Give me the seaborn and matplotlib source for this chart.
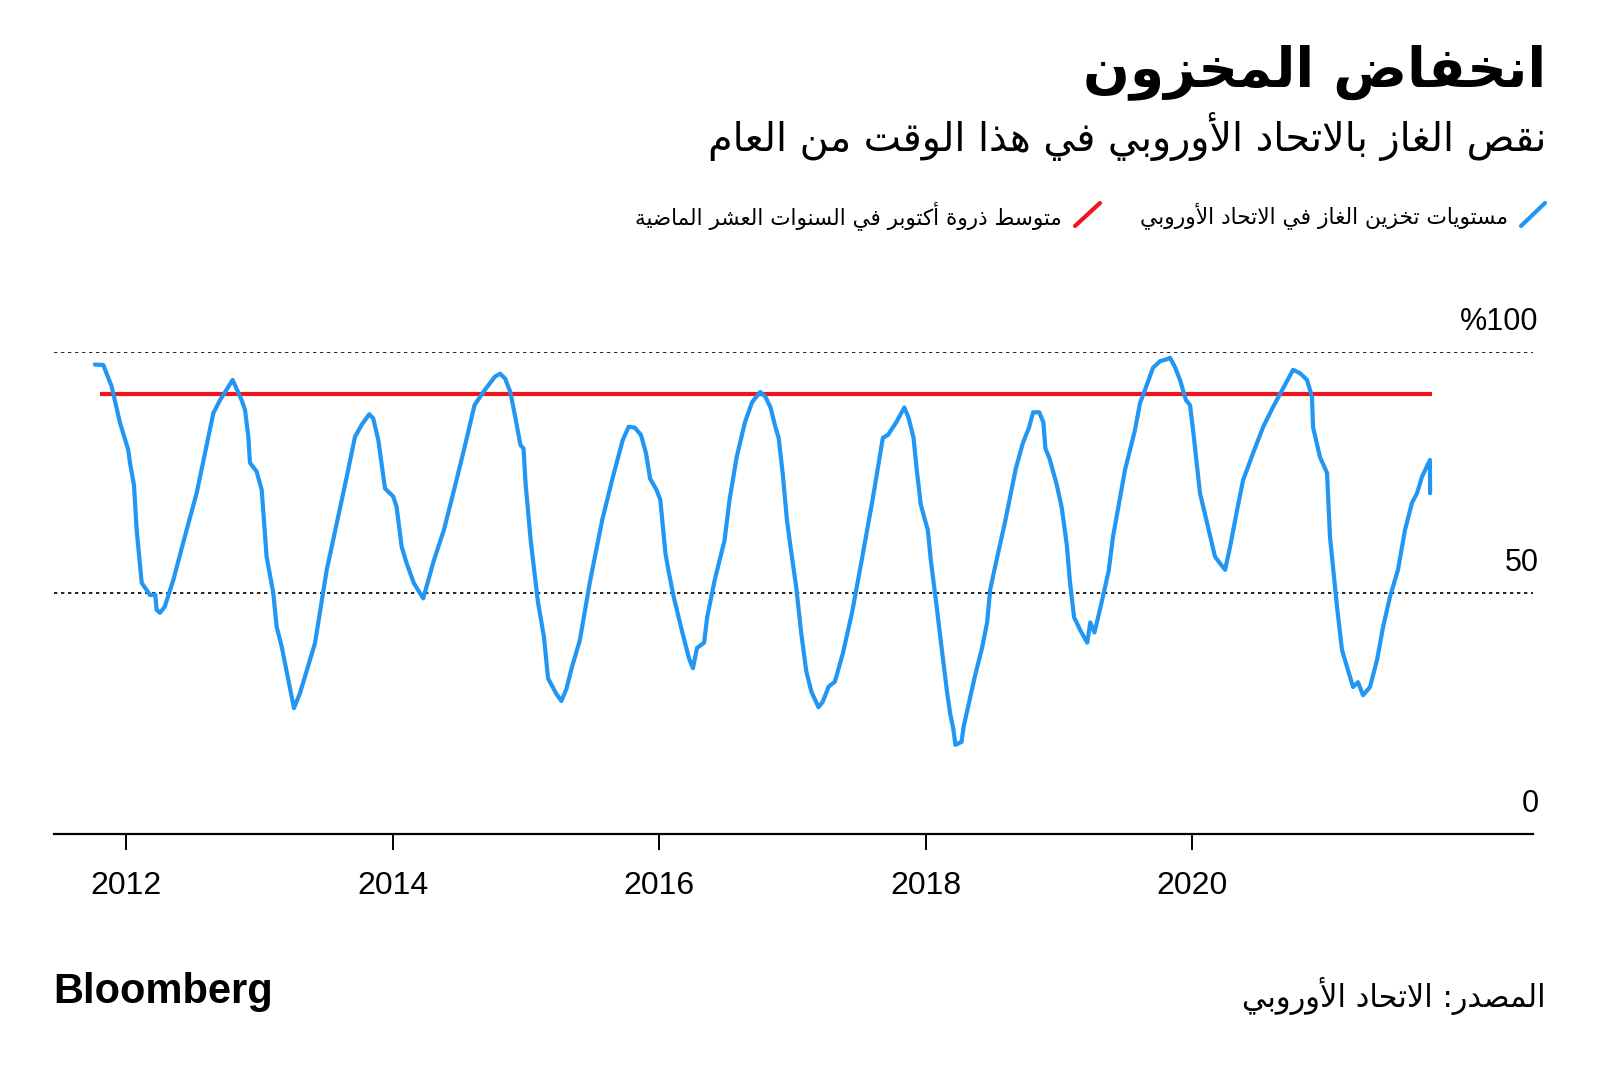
import matplotlib
matplotlib.use("Agg")
import matplotlib.pyplot as plt
from matplotlib.lines import Line2D
import seaborn as sns

# EU gas storage level (% full); x in decimal years
years = [
    2011.767, 2011.830, 2011.893, 2011.955, 2012.017, 2012.030, 2012.060, 2012.080, 2012.118, 2012.180,
    2012.220, 2012.230, 2012.255, 2012.290, 2012.355, 2012.455, 2012.530, 2012.655, 2012.705, 2012.800,
    2012.868, 2012.893, 2012.918, 2012.930, 2012.980, 2013.018, 2013.055, 2013.105, 2013.130, 2013.168,
    2013.260, 2013.305, 2013.418, 2013.506, 2013.656, 2013.718, 2013.768, 2013.825, 2013.855, 2013.893,
    2013.943, 2014.005, 2014.030, 2014.068, 2014.105, 2014.160, 2014.230, 2014.309, 2014.385, 2014.462,
    2014.538, 2014.615, 2014.691, 2014.768, 2014.806, 2014.844, 2014.883, 2014.921, 2014.959, 2014.982,
    2014.998, 2015.036, 2015.090, 2015.136, 2015.166, 2015.228, 2015.266, 2015.304, 2015.343, 2015.404,
    2015.481, 2015.573, 2015.649, 2015.726, 2015.771, 2015.817, 2015.863, 2015.901, 2015.932, 2015.978,
    2016.008, 2016.047, 2016.070, 2016.108, 2016.169, 2016.223, 2016.253, 2016.284, 2016.337, 2016.360,
    2016.414, 2016.490, 2016.528, 2016.582, 2016.643, 2016.697, 2016.758, 2016.797, 2016.835, 2016.873,
    2016.896, 2016.927, 2016.958, 2016.989, 2017.027, 2017.065, 2017.103, 2017.142, 2017.195, 2017.226,
    2017.272, 2017.318, 2017.379, 2017.448, 2017.525, 2017.601, 2017.678, 2017.716, 2017.778, 2017.839,
    2017.870, 2017.908, 2017.931, 2017.962, 2017.993, 2018.015, 2018.038, 2018.077, 2018.123, 2018.161,
    2018.184, 2018.207, 2018.222, 2018.268, 2018.284, 2018.322, 2018.368, 2018.422, 2018.460, 2018.483,
    2018.521, 2018.598, 2018.675, 2018.728, 2018.774, 2018.805, 2018.851, 2018.882, 2018.897, 2018.928,
    2018.981, 2019.020, 2019.058, 2019.081, 2019.112, 2019.158, 2019.211, 2019.234, 2019.265, 2019.311,
    2019.372, 2019.404, 2019.494, 2019.569, 2019.607, 2019.644, 2019.704, 2019.757, 2019.809, 2019.832,
    2019.869, 2019.907, 2019.952, 2019.982, 2020.005, 2020.057, 2020.110, 2020.170, 2020.245, 2020.282,
    2020.335, 2020.380, 2020.455, 2020.530, 2020.605, 2020.695, 2020.755, 2020.807, 2020.860, 2020.897,
    2020.905, 2020.957, 2021.010, 2021.032, 2021.085, 2021.122, 2021.167, 2021.205, 2021.242, 2021.280,
    2021.332, 2021.385, 2021.430, 2021.482, 2021.542, 2021.595, 2021.647, 2021.685, 2021.722, 2021.782,
    2021.783,
]
storage = [
    97.4, 97.3, 92.8, 85.3, 79.7, 77.0, 72.4, 63.1, 52.1, 49.6,
    49.6, 46.5, 45.9, 47.1, 52.7, 63.1, 70.7, 87.3, 90.0, 94.2,
    90.0, 88.0, 82.4, 77.0, 75.2, 71.4, 57.5, 50.0, 43.0, 38.9,
    26.1, 29.2, 39.6, 54.8, 74.1, 82.4, 84.9, 87.1, 86.2, 81.7,
    71.7, 70.0, 67.9, 59.6, 56.2, 52.0, 48.9, 56.7, 63.1, 71.5,
    80.0, 89.0, 92.1, 94.9, 95.5, 94.5, 91.7, 86.4, 80.7, 80.0,
    72.6, 60.9, 48.2, 40.8, 32.3, 29.1, 27.6, 30.1, 34.4, 40.1,
    52.4, 65.2, 73.7, 81.7, 84.5, 84.3, 82.8, 79.0, 73.7, 71.5,
    69.4, 58.2, 54.6, 49.3, 42.3, 36.5, 34.4, 38.6, 39.7, 45.0,
    52.4, 60.9, 69.4, 78.3, 85.4, 89.6, 91.7, 90.7, 88.5, 84.3,
    82.2, 74.7, 65.2, 58.8, 51.4, 41.8, 33.8, 29.5, 26.3, 27.4,
    30.6, 31.6, 37.6, 46.1, 57.7, 69.4, 82.2, 82.8, 85.4, 88.5,
    86.4, 82.2, 75.8, 68.4, 65.2, 63.1, 56.7, 48.2, 37.6, 29.1,
    24.8, 21.7, 18.5, 19.1, 22.3, 27.0, 32.7, 38.6, 43.9, 50.7,
    55.6, 65.2, 75.8, 81.1, 84.3, 87.5, 87.5, 85.4, 80.0, 77.9,
    72.6, 67.7, 59.9, 52.4, 45.0, 42.3, 39.7, 43.9, 41.8, 47.1,
    54.6, 61.6, 75.5, 83.8, 89.4, 92.1, 96.7, 98.1, 98.5, 98.8,
    96.9, 94.2, 90.0, 89.0, 83.8, 70.7, 64.5, 57.5, 54.8, 59.5,
    67.2, 73.4, 79.0, 84.4, 88.6, 93.2, 96.3, 95.6, 94.2, 90.7,
    84.4, 78.2, 74.9, 61.6, 47.1, 38.2, 34.0, 30.5, 31.5, 28.8,
    30.5, 36.1, 42.9, 49.2, 54.8, 63.1, 68.7, 70.7, 74.1, 77.6,
    70.7,
]

# 10-year average October peak
avg_peak = 91.2
avg_start, avg_end = 2011.805, 2021.797

year_ticks = [2012, 2014, 2016, 2018, 2020]
y_labels = {100: "%100", 50: "50", 0: "0"}

title = "انخفاض المخزون"
subtitle = "نقص الغاز بالاتحاد الأوروبي في هذا الوقت من العام"
legend_storage = "مستويات تخزين الغاز في الاتحاد الأوروبي"
legend_avg = "متوسط ذروة أكتوبر في السنوات العشر الماضية"
source = "المصدر: الاتحاد الأوروبي"

BLUE = "#2196f3"
RED = "#f0141e"

# --- minimal Arabic shaping (matplotlib has no bidi / joining support) ---
_two = {'آ': 0xFE81, 'أ': 0xFE83, 'ؤ': 0xFE85, 'إ': 0xFE87, 'ا': 0xFE8D, 'ة': 0xFE93,
        'د': 0xFEA9, 'ذ': 0xFEAB, 'ر': 0xFEAD, 'ز': 0xFEAF, 'و': 0xFEED, 'ى': 0xFEEF}
_four = {'ئ': 0xFE89, 'ب': 0xFE8F, 'ت': 0xFE95, 'ث': 0xFE99, 'ج': 0xFE9D, 'ح': 0xFEA1,
         'خ': 0xFEA5, 'س': 0xFEB1, 'ش': 0xFEB5, 'ص': 0xFEB9, 'ض': 0xFEBD, 'ط': 0xFEC1,
         'ظ': 0xFEC5, 'ع': 0xFEC9, 'غ': 0xFECD, 'ف': 0xFED1, 'ق': 0xFED5, 'ك': 0xFED9,
         'ل': 0xFEDD, 'م': 0xFEE1, 'ن': 0xFEE5, 'ه': 0xFEE9, 'ي': 0xFEF1}
_lamalef = {'آ': 0xFEF5, 'أ': 0xFEF7, 'إ': 0xFEF9, 'ا': 0xFEFB}


def ar(text):
    toks = []
    i = 0
    while i < len(text):
        c = text[i]
        if c == 'ل' and i + 1 < len(text) and text[i + 1] in _lamalef:
            toks.append(('LA', text[i + 1]))
            i += 2
        else:
            toks.append(('C', c))
            i += 1
    out = []
    for k, (kind, c) in enumerate(toks):
        prev = toks[k - 1] if k > 0 else None
        nxt = toks[k + 1] if k + 1 < len(toks) else None
        p = prev is not None and prev[0] == 'C' and prev[1] in _four
        if kind == 'LA':
            out.append(chr(_lamalef[c] + (1 if p else 0)))
            continue
        n = nxt is not None and (nxt[0] == 'LA' or nxt[1] in _four or nxt[1] in _two)
        if c in _four:
            b = _four[c]
            out.append(chr(b + 3 if (p and n) else b + 1 if p else b + 2 if n else b))
        elif c in _two:
            out.append(chr(_two[c] + (1 if p else 0)))
        else:
            out.append(c)
    return ''.join(reversed(out))


sns.set_theme(style="white")
plt.rcParams['font.family'] = ['Liberation Sans', 'DejaVu Sans']
AR = ['DejaVu Sans']

W, H = 1600, 1070
fig = plt.figure(figsize=(16, 10.7), dpi=100)
fig.patch.set_facecolor("white")

ax = fig.add_axes([54 / W, 1 - 834 / H, 1479 / W, 482 / H])
ax.set_facecolor("white")

# dotted reference lines
for lvl in (100, 50):
    ax.axhline(lvl, color="black", lw=1.2, ls=(0, (2, 2.2)), zorder=1)

ax.hlines(avg_peak, avg_start, avg_end, color=RED, lw=3.0, zorder=2)
sns.lineplot(x=years, y=storage, ax=ax, color=BLUE, lw=3.0, sort=False,
             estimator=None, zorder=3)

ax.set_xlim(2011.46, 2022.555)
ax.set_ylim(0, 100)
ax.set_xticks(year_ticks)
ax.set_xticklabels([str(y) for y in year_ticks], fontsize=23)
ax.set_yticks([])
ax.set_xlabel("")
ax.set_ylabel("")
for s in ("left", "right", "top"):
    ax.spines[s].set_visible(False)
ax.spines["bottom"].set_color("black")
ax.spines["bottom"].set_linewidth(1.6)
ax.tick_params(axis="x", direction="out", length=11.5, width=1.4, color="black",
               pad=15.5, labelcolor="black", bottom=True)

for val, lab in y_labels.items():
    ax.annotate(lab, xy=(1, val), xycoords=("axes fraction", "data"),
                xytext=(4, 21.5), textcoords="offset points",
                ha="right", va="center", fontsize=22, color="black")

# titles
fig.text(1546 / W, 1 - 72 / H, ar(title), family=AR, weight="bold", fontsize=39.5,
         ha="right", va="center", color="black")
fig.text(1546 / W, 1 - 137 / H, ar(subtitle), family=AR, fontsize=28.5,
         ha="right", va="center", color="black")

# legend
fig.add_artist(Line2D([1521 / W, 1545 / W], [1 - 226 / H, 1 - 203 / H],
                      color=BLUE, lw=3, transform=fig.transFigure))
fig.text(1508 / W, 1 - 216 / H, ar(legend_storage), family=AR, fontsize=15.7,
         ha="right", va="center", color="black")
fig.add_artist(Line2D([1075 / W, 1100 / W], [1 - 226 / H, 1 - 203 / H],
                      color=RED, lw=3, transform=fig.transFigure))
fig.text(1062 / W, 1 - 216 / H, ar(legend_avg), family=AR, fontsize=15.5,
         ha="right", va="center", color="black")

# footer
fig.text(53 / W, 1 - 992 / H, "Bloomberg", fontsize=30, weight="bold",
         ha="left", va="center", color="black")
fig.text(1546 / W, 1 - 996 / H, ar(source), family=AR, fontsize=22,
         ha="right", va="center", color="black")

fig.savefig("out.png", dpi=100, facecolor="white")
